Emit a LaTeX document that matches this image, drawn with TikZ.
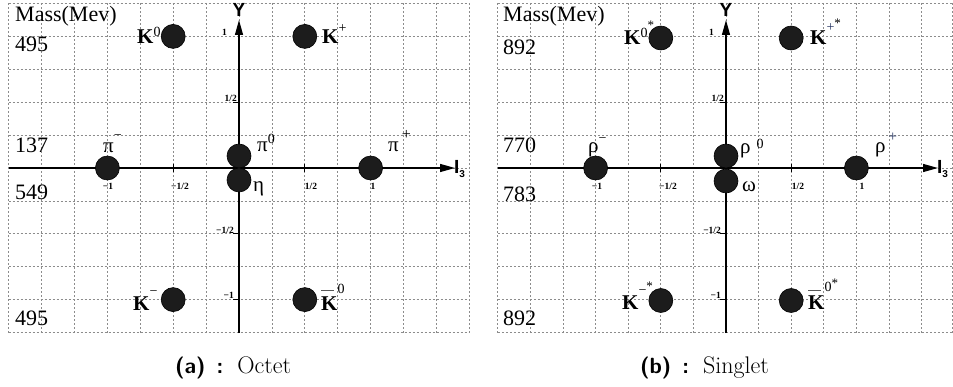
\documentclass[tikz,border=0pt]{standalone}
\usepackage{fontspec}
\usepackage{graphicx}
\newfontfamily\tms{Liberation Serif}
\newfontfamily\hel{Liberation Sans}
\usetikzlibrary{arrows.meta}
\definecolor{gridc}{RGB}{140,140,140}
\definecolor{dotc}{RGB}{28,28,28}
\definecolor{supblue}{RGB}{40,55,100}
\newcommand\upr[3][14]{\raisebox{#2pt}{\fontsize{#1}{#1}\selectfont #3}}
\newcommand\barK[1]{\rlap{\raisebox{#1pt}{\color{black!65}\rule{13pt}{1.1pt}}}{\bfseries K}}
\tikzset{
  gridline/.style={draw=gridc, line width=0.7pt, dash pattern=on 2pt off 2pt},
  axis/.style={draw=black, line width=1.3pt},
  arr/.style={-{Triangle[length=15pt,width=8pt]}},
  particle/.style={circle, fill=dotc, draw=black, line width=0.6pt, minimum size=24pt, inner sep=0pt},
  ticklab/.style={font=\tms\bfseries\fontsize{9.5}{10}\selectfont, inner sep=0pt},
  masslab/.style={font=\tms\fontsize{22}{24}\selectfont, anchor=base west, inner sep=0pt},
  plab/.style={font=\tms\fontsize{21}{24}\selectfont, anchor=base west, inner sep=0pt},
  axlab/.style={font=\hel\bfseries\fontsize{19}{20}\selectfont, inner sep=0pt},
  caplab/.style={inner sep=0pt, anchor=base west},
  tickmark/.style={draw=black, line width=0.8pt},
}
\newcommand\captag[1]{{\sffamily\bfseries\fontsize{22}{24}\selectfont (#1)\hspace{11pt}:}\hspace{14pt}}
\begin{document}
\begin{tikzpicture}[x=1pt,y=-1pt]
\useasboundingbox (0,0) rectangle (953,387);
\fill[white] (0,0) rectangle (953,387);
% ================= left panel =================
\begin{scope}[shift={(239,168)}]
  \foreach \i in {-7,...,7} \draw[gridline] (\i*32.9,-164.5) -- (\i*32.9,164.5);
  \foreach \j in {-5,...,5} \draw[gridline] (-230.3,\j*32.9) -- (230.3,\j*32.9);
  \coordinate (aYb) at (0,165);
  \coordinate (aYt) at (0,-148);
  \coordinate (aXl) at (-230.3,0);
  \coordinate (aXr) at (216,0);
  \draw[axis,arr] (aYb) -- (aYt);
  \draw[axis,arr] (aXl) -- (aXr);
  \node[axlab] (aY) at (0,-158) {Y};
  \node[axlab, anchor=west] (aI) at (215,1) {I\raisebox{-4pt}{\fontsize{10}{10}\selectfont 3}};
  % ticks
  \foreach \t in {-65.8,65.8,131.6} \draw[tickmark] (-6,\t) -- (0,\t);
  \foreach \t in {-65.8,65.8} \draw[tickmark] (\t,-4) -- (\t,4);
  \node[ticklab] (ax1) at (-131,18) {−1};
  \node[ticklab] (ax2) at (-59,18) {−1/2};
  \node[ticklab] (ax3) at (72,18) {1/2};
  \node[ticklab] (ax4) at (134,18) {1};
  \node[ticklab, anchor=base east] (ay1) at (-12,-132) {1};
  \node[ticklab, anchor=base east] (ay2) at (-2,-66) {1/2};
  \node[ticklab, anchor=base east] (ay3) at (-5,66) {−1/2};
  \node[ticklab, anchor=base east] (ay4) at (-5,131) {−1};
  % particles
  \node[particle] (aK0) at (-65.8,-131.6) {};
  \node[particle] (aKp) at (65.8,-131.6) {};
  \node[particle] (apim) at (-131.6,0) {};
  \node[particle] (apip) at (131.6,0) {};
  \node[particle] (api0) at (0,-12) {};
  \node[particle] (aeta) at (0,12) {};
  \node[particle] (aKm) at (-65.8,131.6) {};
  \node[particle] (aK0b) at (65.8,131.6) {};
  % labels
  \node[plab] (laK0) at (-102,-124) {{\bfseries K}\upr{7}{0}};
  \node[plab] (laKp) at (83,-124) {{\bfseries K}\upr{11}{+}};
  \node[plab] (lapim) at (-136,-15) {π\upr{13}{−}};
  \node[plab] (lapi0) at (18,-16) {π\upr{8.5}{0}};
  \node[plab] (lapip) at (149,-16) {π\hspace{3pt}\upr[16]{12}{+}};
  \node[plab] (laeta) at (14,24) {η};
  \node[plab] (laKm) at (-106,142) {{\bfseries K}\upr{14}{−}};
  \node[plab] (laK0b) at (82,142) {\barK{19}\upr{17}{0}};
\end{scope}
\node[masslab] (amass) at (15,22) {Mass(Mev)};
\node[masslab] (am1) at (15,52) {495};
\node[masslab] (am2) at (15,153) {137};
\node[masslab] (am3) at (15,200) {549};
\node[masslab] (am4) at (15,325) {495};
% ================= right panel =================
\begin{scope}[shift={(726,168)}]
  \foreach \i in {-7,...,6} \draw[gridline] (\i*32.6,-164.5) -- (\i*32.6,164.5);
  \draw[gridline] (226.3,-164.5) -- (226.3,164.5);
  \foreach \j in {-5,...,5} \draw[gridline] (-228.2,\j*32.9) -- (226.3,\j*32.9);
  \coordinate (bYb) at (0,165);
  \coordinate (bYt) at (0,-148);
  \coordinate (bXl) at (-228.2,0);
  \coordinate (bXr) at (212,0);
  \draw[axis,arr] (bYb) -- (bYt);
  \draw[axis,arr] (bXl) -- (bXr);
  \node[axlab] (bY) at (0,-158) {Y};
  \node[axlab, anchor=west] (bI) at (211,1) {I\raisebox{-4pt}{\fontsize{10}{10}\selectfont 3}};
  \foreach \t in {-65.8,65.8,131.6} \draw[tickmark] (-6,\t) -- (0,\t);
  \foreach \t in {-65.2,65.2} \draw[tickmark] (\t,-4) -- (\t,4);
  \node[ticklab] (bx1) at (-129,18) {−1};
  \node[ticklab] (bx2) at (-58,18) {−1/2};
  \node[ticklab] (bx3) at (72,18) {1/2};
  \node[ticklab] (bx4) at (136,18) {1};
  \node[ticklab, anchor=base east] (by1) at (-12,-132) {1};
  \node[ticklab, anchor=base east] (by2) at (-2,-66) {1/2};
  \node[ticklab, anchor=base east] (by3) at (-5,66) {−1/2};
  \node[ticklab, anchor=base east] (by4) at (-5,131) {−1};
  \node[particle] (bK0) at (-65.2,-130) {};
  \node[particle] (bKp) at (65.2,-130) {};
  \node[particle] (brhom) at (-130.4,0) {};
  \node[particle] (brhop) at (130.4,0) {};
  \node[particle] (brho0) at (0,-12) {};
  \node[particle] (bomega) at (0,13) {};
  \node[particle] (bKm) at (-65.2,132.5) {};
  \node[particle] (bK0b) at (65.2,132.5) {};
  \node[plab] (lbK0) at (-102,-123) {{\bfseries K}\upr{7.5}{0}\upr[13]{15}{*}};
  \node[plab] (lbKp) at (84,-123) {{\bfseries K}\upr{13}{\color{supblue}+}\upr[13]{17}{*}};
  \node[plab] (lbrhom) at (-138,-15) {ρ\upr{10}{−}};
  \node[plab] (lbrho0) at (14,-14) {ρ\hspace{6pt}\upr{5}{0}};
  \node[plab] (lbrhop) at (149,-15) {ρ\hspace{3pt}\upr[15]{11}{\color{supblue}+}};
  \node[plab] (lbomega) at (16,24) {ω};
  \node[plab] (lbKm) at (-104,141) {{\bfseries K}\upr{15}{−}\upr[13]{19}{*}};
  \node[plab] (lbK0b) at (82,141) {\barK{18}\upr{18}{0}\upr[13]{21}{*}};
\end{scope}
\node[masslab] (bmass) at (503,22) {Mass(Mev)};
\node[masslab] (bm1) at (503,55) {892};
\node[masslab] (bm2) at (503,153) {770};
\node[masslab] (bm3) at (503,202) {783};
\node[masslab] (bm4) at (503,325) {892};
% ================= captions =================
\node[caplab] (capa) at (175,373) {\captag{a}{\fontsize{24}{26}\selectfont Octet}};
\node[caplab] (capb) at (640,373) {\captag{b}{\fontsize{24}{26}\selectfont Singlet}};
\end{tikzpicture}
\end{document}
